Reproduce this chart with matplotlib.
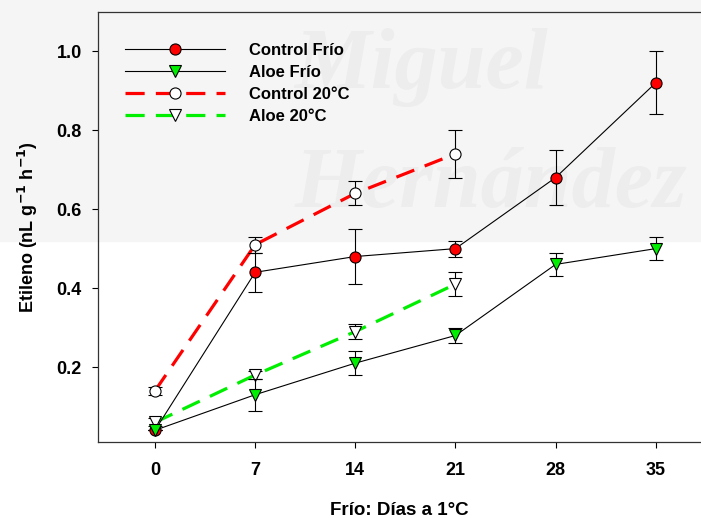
import numpy as np
import matplotlib.pyplot as plt
from matplotlib.patches import Rectangle
from matplotlib.lines import Line2D

plt.rcParams['font.family'] = ['Liberation Sans', 'DejaVu Sans']
plt.rcParams['font.weight'] = 'bold'

dias = [0, 7, 14, 21, 28, 35]
dias_20 = [0, 7, 14, 21]

control_frio = [0.04, 0.44, 0.48, 0.50, 0.68, 0.92]
control_frio_err = [0.0, 0.05, 0.07, 0.02, 0.07, 0.08]
aloe_frio = [0.04, 0.13, 0.21, 0.28, 0.46, 0.50]
aloe_frio_err = [0.0, 0.04, 0.03, 0.02, 0.03, 0.03]
control_20 = [0.14, 0.51, 0.64, 0.74]
control_20_err = [0.01, 0.02, 0.03, 0.06]
aloe_20 = [0.06, 0.18, 0.29, 0.41]
aloe_20_err = [0.01, 0.01, 0.02, 0.03]

etiquetas = ['Control Frío', 'Aloe Frío', 'Control 20°C', 'Aloe 20°C']

rojo = '#ff0000'
verde = '#00ee00'

fig = plt.figure(figsize=(7.01, 5.18), dpi=100)
ax = fig.add_axes([0.1394, 0.1473, 0.8606, 0.8301])
ax.set_facecolor('none')

# marca de agua de fondo
fig.patches.append(Rectangle((0, 0.535), 1, 0.465, transform=fig.transFigure,
                             color='#f5f5f5', zorder=-3))
fig.text(0.60, 0.87, 'Miguel', fontsize=62, family='Liberation Serif',
         style='italic', color='#ededed', ha='center', va='center', zorder=-2)
fig.text(0.70, 0.64, 'Hernández', fontsize=62, family='Liberation Serif',
         style='italic', color='#ededed', ha='center', va='center', zorder=-2)

err_kw = dict(ecolor='black', elinewidth=0.8, capsize=4.7, capthick=0.8)
estilo = [
    dict(color='black', lw=0.8, marker='o', mfc=rojo),
    dict(color='black', lw=0.8, marker='v', mfc=verde),
    dict(color=rojo, lw=2.3, dashes=(6, 3.5), marker='o', mfc='white'),
    dict(color=verde, lw=2.3, dashes=(6, 3.5), marker='v', mfc='white'),
]
comun = dict(ms=8, mec='black', mew=0.8)

ax.errorbar(dias_20, control_20, yerr=control_20_err, zorder=2,
            **estilo[2], **comun, **err_kw)
ax.errorbar(dias_20, aloe_20, yerr=aloe_20_err, zorder=2,
            **estilo[3], **comun, **err_kw)
ax.errorbar(dias, control_frio, yerr=control_frio_err, zorder=3,
            **estilo[0], **comun, **err_kw)
ax.errorbar(dias, aloe_frio, yerr=aloe_frio_err, zorder=3,
            **estilo[1], **comun, **err_kw)

handles = [Line2D([], [], **e, **comun) for e in estilo]
ax.legend(handles, etiquetas, loc='upper left',
          bbox_to_anchor=(0.045, 0.928), frameon=False, fontsize=12,
          handlelength=6.0, handletextpad=1.45, labelspacing=0.42,
          borderpad=0, borderaxespad=0)

ax.set_xlim(-4.005, 38.16)
ax.set_ylim(0.011, 1.1)
ax.set_xticks(dias)
ax.set_yticks([0.2, 0.4, 0.6, 0.8, 1.0])
ax.set_yticklabels(['0.2', '0.4', '0.6', '0.8', '1.0'])
ax.tick_params(direction='out', length=4.5, width=0.8, labelsize=13)
ax.tick_params(axis='x', pad=10)
ax.tick_params(axis='y', pad=7)
ax.spines['right'].set_visible(False)
for s in ['left', 'top', 'bottom']:
    ax.spines[s].set_linewidth(0.9)
    ax.spines[s].set_color('#333333')

ax.set_xlabel('Frío: Días a 1°C', fontsize=13.5, fontweight='bold', labelpad=17)
ax.set_ylabel('Etileno (nL g$^{\\mathbf{-1}}$ h$^{\\mathbf{-1}}$)', fontsize=13,
              fontweight='bold', labelpad=12)

fig.savefig('out.png', dpi=100)
